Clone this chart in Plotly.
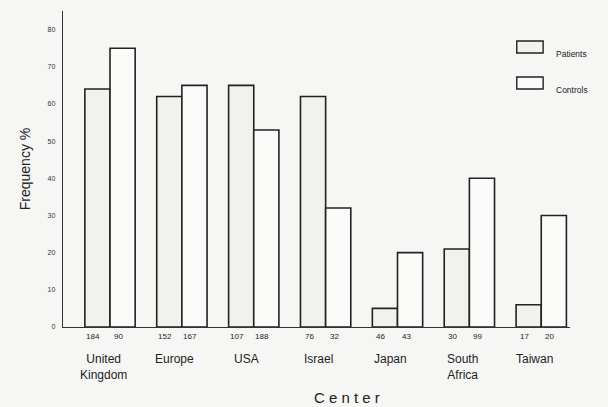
import plotly.graph_objects as go

centers = ["United<br>Kingdom", "Europe", "USA", "Israel", "Japan", "South<br>Africa", "Taiwan"]
patients = [64, 62, 65, 62, 5, 21, 6]
controls = [75, 65, 53, 32, 20, 40, 30]
n_patients = ["184", "152", "107", "76", "46", "30", "17"]
n_controls = ["90", "167", "188", "32", "43", "99", "20"]
y_ticks = [0, 10, 20, 30, 40, 50, 60, 70, 80]

off = 0.175
w = 0.35
xs = list(range(len(centers)))
xp = [i - off for i in xs]
xc = [i + off for i in xs]

bg = "#f6f6f4"
line = dict(color="#222", width=1.6)
fig = go.Figure()
fig.add_trace(go.Bar(x=xp, y=patients, width=w, name="Patients",
                     marker=dict(color="#f1f1ee", line=line), showlegend=False))
fig.add_trace(go.Bar(x=xc, y=controls, width=w, name="Controls",
                     marker=dict(color="#fbfbfa", line=line), showlegend=False))

font = "Liberation Sans, Arial, sans-serif"
for x, t in zip(xp, n_patients):
    fig.add_annotation(x=x, y=0, yref="y", text=t, showarrow=False, yanchor="top",
                       yshift=-3, xshift=-4, font=dict(size=8, color="#222", family=font))
for x, t in zip(xc, n_controls):
    fig.add_annotation(x=x, y=0, yref="y", text=t, showarrow=False, yanchor="top",
                       yshift=-3, xshift=-4, font=dict(size=8, color="#222", family=font))
for x, t in zip(xs, centers):
    fig.add_annotation(x=x, y=0, yref="y", text=t, showarrow=False, yanchor="top",
                       yshift=-23, xshift=-7, font=dict(size=12, color="#222", family=font))

# legend drawn manually
fig.add_shape(type="rect", xref="paper", yref="paper", x0=0.895, x1=0.947, y0=0.867, y1=0.905,
              line=dict(color="#222", width=1.4), fillcolor="#f1f1ee")
fig.add_shape(type="rect", xref="paper", yref="paper", x0=0.895, x1=0.947, y0=0.753, y1=0.791,
              line=dict(color="#222", width=1.4), fillcolor="#fbfbfa")
fig.add_annotation(xref="paper", yref="paper", x=0.968, y=0.886, text="Patients", showarrow=False,
                   xanchor="left", font=dict(size=8.5, color="#222", family=font))
fig.add_annotation(xref="paper", yref="paper", x=0.968, y=0.772, text="Controls", showarrow=False,
                   xanchor="left", font=dict(size=8.5, color="#222", family=font))

fig.add_annotation(xref="paper", yref="paper", x=0.56, y=0, yanchor="top", yshift=-60,
                   text="C e n t e r", showarrow=False, font=dict(size=15, color="#222", family=font))

fig.update_layout(
    width=608, height=407,
    margin=dict(l=63, r=38, t=11, b=80, autoexpand=False),
    paper_bgcolor=bg, plot_bgcolor=bg,
    bargap=0.3,
    xaxis=dict(range=[-0.654, 6.40], showticklabels=False, showgrid=False, zeroline=False,
               showline=True, linecolor="#333", linewidth=1.2, ticks="", automargin=False),
    yaxis=dict(range=[0, 85], tickvals=y_ticks, showgrid=False, zeroline=False, automargin=False,
               showline=True, linecolor="#333", linewidth=1.4, ticks="", ticklen=0,
               ticklabelstandoff=5,
               tickfont=dict(size=7, color="#333", family=font),
               title=dict(text="Frequency %", font=dict(size=14, color="#222", family=font),
                          standoff=13)),
)
fig.write_html("out.html", config={"displayModeBar": False},
               post_script="document.body.style.margin='0';document.body.style.background='%s';" % bg)
